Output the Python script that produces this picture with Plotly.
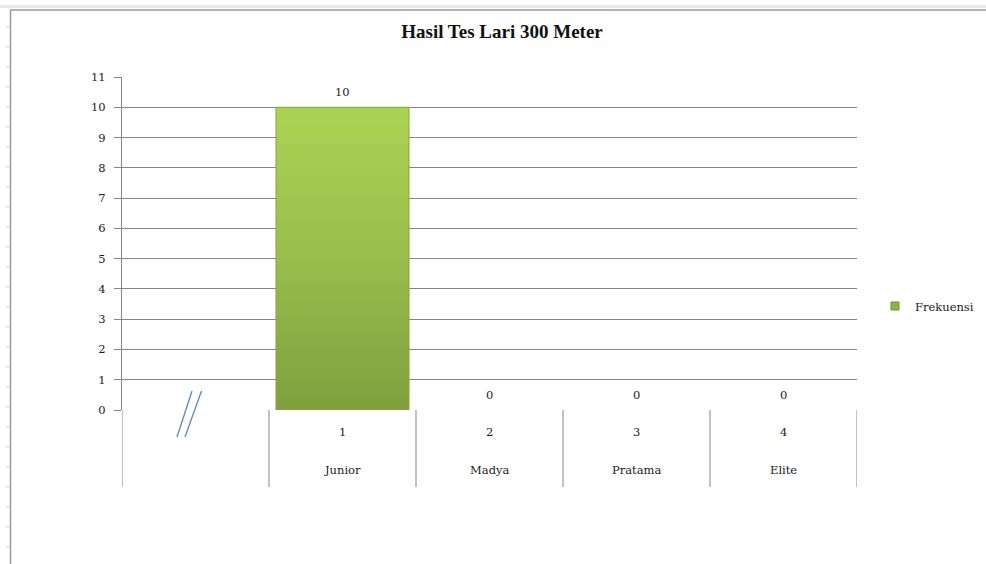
import plotly.graph_objects as go

# ---- data ----
categories = ["", "Junior", "Madya", "Pratama", "Elite"]
category_numbers = ["", "1", "2", "3", "4"]
frekuensi = [None, 10, 0, 0, 0]
y_ticks = list(range(0, 12))
title_text = "Hasil Tes Lari 300 Meter"
series_name = "Frekuensi"

FONT = "DejaVu Serif"
TFONT = "Liberation Serif"
TXT = "#1a1a1a"
GRID = "#858585"
W, H = 986, 564
L, R, T, B = 122, 129, 77, 77
pw, ph = W - L - R, H - T - B
split = 77 / ph  # table fraction of plot height

def px(x): return (x - L) / pw
def py(y): return (H - B - y) / ph

x_idx = list(range(len(categories)))
bar_width = 0.905

fig = go.Figure()

# main bar
fig.add_trace(go.Bar(
    x=x_idx, y=frekuensi, width=bar_width, name=series_name,
    marker=dict(color="#9bbf4d", line=dict(width=0)),
    cliponaxis=False, showlegend=False,
))

# vertical gradient overlay, built from the same data
for i, v in zip(x_idx, frekuensi):
    if v:
        hw = bar_width / 2
        fig.add_trace(go.Scatter(
            x=[i - hw, i + hw, i + hw, i - hw, i - hw],
            y=[0, 0, v, v, 0],
            mode="lines", line=dict(width=1, color="#86a843"),
            fill="toself",
            fillgradient=dict(type="vertical",
                              colorscale=[[0, "#7f9f3d"], [0.5, "#99bd4c"], [1, "#abd354"]]),
            showlegend=False, hoverinfo="skip",
        ))

# data labels
for i, v in zip(x_idx, frekuensi):
    if v is not None:
        fig.add_annotation(x=i, y=v, xref="x", yref="y", text=str(v), showarrow=False,
                           yshift=15, font=dict(family=FONT, size=11.5, color=TXT))

# legend entry (small square like the original)
fig.add_trace(go.Scatter(
    x=[None], y=[None], mode="markers", name=series_name,
    marker=dict(symbol="square", size=8, color="#8db447", line=dict(color="#6f8f30", width=1)),
    showlegend=True,
))

# invisible trace to anchor the table subplot
fig.add_trace(go.Scatter(x=x_idx, y=[0.5] * len(x_idx), xaxis="x2", yaxis="y2",
                         mode="markers", marker=dict(opacity=0), showlegend=False,
                         hoverinfo="skip"))

# table vertical lines (category boundaries)
n = len(categories)
for k in range(n + 1):
    fig.add_shape(type="line", xref="x2", yref="y2",
                  x0=k - 0.5, x1=k - 0.5, y0=0, y1=1,
                  line=dict(color=GRID, width=1))

# table texts
for i in range(1, n):
    fig.add_annotation(x=i, y=1 - 22 / 77, xref="x2", yref="y2", text=category_numbers[i],
                       showarrow=False, font=dict(family=FONT, size=11.5, color=TXT))
    fig.add_annotation(x=i, y=1 - 60 / 77, xref="x2", yref="y2", text=categories[i],
                       showarrow=False, font=dict(family=FONT, size=11.5, color=TXT))

# axis-break "//" marks in first (empty) category
for (xa, xb) in ((177, 192), (185, 201.5)):
    fig.add_shape(type="line", xref="paper", yref="paper",
                  x0=px(xa), x1=px(xb), y0=py(437), y1=py(391),
                  line=dict(color="#5a86c8", width=1.3))

# spreadsheet frame decorations
fig.add_shape(type="rect", xref="paper", yref="paper", x0=px(0), x1=px(W), y0=py(8), y1=py(5),
              line=dict(width=0), fillcolor="#e6e8f1", layer="below")
fig.add_shape(type="line", xref="paper", yref="paper", x0=px(10), x1=px(W), y0=py(10), y1=py(10),
              line=dict(color="#9a9a9a", width=1.5))
fig.add_shape(type="line", xref="paper", yref="paper", x0=px(10.5), x1=px(10.5), y0=py(10), y1=py(H),
              line=dict(color="#9a9a9a", width=1.5))
for yy in range(27, H, 20):
    fig.add_shape(type="line", xref="paper", yref="paper", x0=px(6), x1=px(9), y0=py(yy), y1=py(yy),
                  line=dict(color="#c8cce0", width=1))

fig.update_layout(
    template="none",
    width=W, height=H,
    margin=dict(l=L, r=R, t=T, b=B, autoexpand=False),
    paper_bgcolor="white", plot_bgcolor="white",
    font=dict(family=FONT, size=11.5, color=TXT),
    title=dict(text="<b>" + title_text + "</b>", x=502 / W, xanchor="center",
               y=1 - 31 / H, yanchor="middle", yref="container",
               font=dict(family=TFONT, size=19, color="#111")),
    xaxis=dict(domain=[0, 1], range=[-0.5, n - 0.5], showticklabels=False, ticks="",
               showgrid=False, zeroline=False, showline=False, anchor="y"),
    xaxis2=dict(domain=[0, 1], range=[-0.5, n - 0.5], matches="x", showticklabels=False,
                ticks="", showgrid=False, zeroline=False, showline=False, anchor="y2"),
    yaxis=dict(domain=[split, 1], range=[0, 11], tickvals=y_ticks, ticks="outside", ticklen=7,
               tickcolor=GRID, showgrid=True, gridcolor=GRID, gridwidth=1, zeroline=False,
               showline=True, linecolor=GRID, linewidth=1, ticklabelstandoff=6,
               tickfont=dict(family=FONT, size=11.5, color=TXT)),
    yaxis2=dict(domain=[0, split], range=[0, 1], showticklabels=False, showgrid=False,
                zeroline=False, showline=False, ticks=""),
    legend=dict(x=px(875), y=py(306), xanchor="left", yanchor="middle",
                font=dict(family=FONT, size=11.5, color=TXT), itemwidth=30,
                bgcolor="rgba(0,0,0,0)", borderwidth=0),
    showlegend=True,
)

fig.write_html("out.html", config={"displayModeBar": False},
               post_script="document.body.style.margin='0';document.body.style.overflow='hidden';")
